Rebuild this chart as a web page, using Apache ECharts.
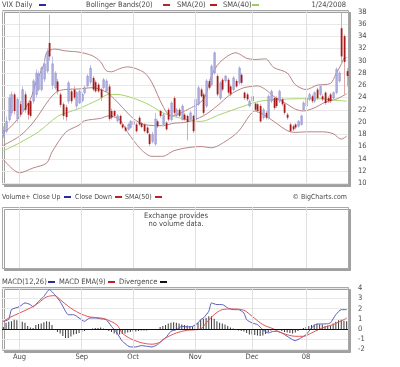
<!DOCTYPE html>
<html><head><meta charset="utf-8">
<script src="https://cdn.jsdelivr.net/npm/echarts@6/dist/echarts.min.js"></script>
<style>html,body{margin:0;padding:0;background:#fff}#c{width:400px;height:367px}</style>
</head><body><div id="c"></div>
<script>
// ---------- DATA ----------
const dates = ['7/24','7/25','7/26','7/27','7/30','7/31',
'8/1','8/2','8/3','8/6','8/7','8/8','8/9','8/10','8/13','8/14','8/15','8/16','8/17','8/20','8/21','8/22','8/23','8/24','8/27','8/28','8/29','8/30','8/31',
'9/4','9/5','9/6','9/7','9/10','9/11','9/12','9/13','9/14','9/17','9/18','9/19','9/20','9/21','9/24','9/25','9/26','9/27','9/28',
'10/1','10/2','10/3','10/4','10/5','10/8','10/9','10/10','10/11','10/12','10/15','10/16','10/17','10/18','10/19','10/22','10/23','10/24','10/25','10/26','10/29','10/30','10/31',
'11/1','11/2','11/5','11/6','11/7','11/8','11/9','11/12','11/13','11/14','11/15','11/16','11/19','11/20','11/21','11/23','11/26','11/27','11/28','11/29','11/30',
'12/3','12/4','12/5','12/6','12/7','12/10','12/11','12/12','12/13','12/14','12/17','12/18','12/19','12/20','12/21','12/24','12/26','12/27','12/28','12/31',
'1/2','1/3','1/4','1/7','1/8','1/9','1/10','1/11','1/14','1/15','1/16','1/17','1/18','1/22','1/23','1/24'];

const monthLabels = {'8/1':'Aug','9/4':'Sep','10/1':'Oct','11/1':'Nov','12/3':'Dec','1/2':'08'};

const vixOpen = [17.8,18.5,20.4,21.5,24.5,20.5,22.9,22.0,24.5,23.1,23.4,23.4,24.5,25.3,25.3,27.0,28.3,32.9,26.0,25.6,
26.6,24.5,22.9,22.4,23.4,25.0,25.3,22.6,23.1,23.5,24.8,25.9,26.5,27.2,26.5,26.1,25.3,25.6,25.0,25.8,
21.8,21.8,20.2,21.0,19.6,19.1,18.8,19.1,19.6,19.6,20.7,19.8,19.6,19.1,18.0,16.8,16.4,20.1,21.8,19.6,
19.9,22.0,20.4,23.9,21.0,22.0,20.4,21.2,21.0,20.4,21.0,20.4,22.9,25.3,24.5,22.6,26.7,26.1,28.0,27.5,
23.9,26.9,26.7,26.9,25.8,25.3,26.7,26.4,27.7,24.8,24.5,22.6,24.2,23.0,22.9,22.6,20.7,21.5,20.7,23.4,
23.9,23.9,23.4,23.7,22.9,21.2,19.6,19.3,19.6,19.3,19.6,22.0,22.6,23.7,24.2,23.4,25.3,24.5,24.2,24.8,
23.9,24.5,23.9,24.8,26.7,35.3,34.0,28.3];
const vixClose = [18.6,20.1,23.9,24.5,21.8,23.7,21.2,25.3,22.0,21.2,21.0,26.7,28.0,27.8,28.8,29.5,31.5,30.7,29.5,28.0,
25.0,22.8,21.0,20.8,26.4,23.4,24.0,24.8,25.0,24.5,25.6,27.5,28.8,25.3,25.0,25.0,24.0,26.9,26.7,20.5,
20.7,21.0,21.0,19.7,19.1,18.6,19.6,20.1,20.1,18.5,19.6,19.2,18.5,18.2,16.4,18.0,20.5,19.3,21.0,21.2,
18.8,20.4,23.1,21.5,22.0,21.0,22.6,20.4,20.0,21.5,18.5,23.7,25.6,24.2,21.5,26.7,25.6,29.1,31.3,24.5,
26.4,25.3,27.5,24.8,24.5,27.2,25.8,28.8,26.4,23.9,23.7,23.4,23.4,22.0,21.8,20.1,22.0,20.7,24.2,25.0,
22.3,22.6,25.0,22.9,21.5,20.7,18.5,18.8,19.1,20.1,21.0,23.1,23.9,24.5,23.4,24.8,23.9,25.8,23.7,23.1,
23.4,23.4,24.8,28.6,28.0,30.7,29.8,27.5];
const vixLow = [17.4,18.2,20.0,21.0,21.2,19.9,20.8,21.6,21.5,20.4,20.7,23.0,24.0,25.0,25.0,26.5,28.0,30.0,25.3,25.3,
24.5,22.4,20.4,20.2,23.0,23.0,23.7,22.2,22.9,23.2,24.5,25.6,26.1,25.0,24.8,24.8,23.4,25.3,24.8,20.2,
20.4,20.7,19.9,19.5,18.9,18.4,18.6,18.9,19.4,18.3,19.4,19.0,18.3,18.0,16.1,16.5,16.1,19.0,20.7,19.3,
18.6,20.1,20.1,21.0,20.7,20.8,20.2,20.2,17.0,20.2,18.2,20.2,22.6,24.0,21.2,22.3,25.3,25.8,27.7,24.2,
23.6,25.0,26.4,24.5,24.2,25.0,25.6,26.1,26.1,23.6,23.4,22.4,23.1,21.8,21.5,19.9,20.4,20.4,20.4,23.1,
22.0,22.3,23.1,22.6,21.2,20.4,18.3,18.5,18.8,19.1,19.4,21.8,22.3,23.4,23.1,23.1,23.6,24.2,23.4,22.8,
23.1,23.1,23.6,24.5,26.4,29.5,24.5,25.8];
const vixHigh = [19.3,20.9,24.5,25.0,24.8,24.0,23.4,25.8,25.0,23.4,23.7,27.0,28.6,28.3,29.1,30.0,32.0,37.5,30.7,28.3,
27.0,24.8,23.2,22.8,26.7,25.5,25.8,25.0,25.3,24.8,26.0,27.8,29.3,27.5,26.8,26.4,25.6,27.2,27.0,26.2,
22.2,22.0,21.3,21.2,19.9,19.4,19.8,20.3,20.4,19.9,21.0,20.0,19.8,19.3,18.2,18.4,21.5,20.4,22.0,21.5,
20.1,22.3,23.4,24.2,22.3,22.3,22.9,21.5,21.2,21.8,21.2,24.0,25.9,25.6,24.8,27.0,27.0,29.4,31.5,27.8,
26.7,27.2,27.7,27.2,26.1,27.5,27.0,29.1,28.0,25.0,24.8,23.7,24.5,23.2,23.1,22.9,22.3,21.8,24.5,25.3,
24.2,24.2,25.3,24.0,23.1,21.5,19.9,19.6,19.8,20.3,21.2,23.4,24.2,24.8,24.5,25.0,25.6,26.1,24.5,25.0,
24.2,24.8,25.0,28.9,28.3,37.8,34.3,28.8];

const upperBand = [['7/24',18.4],['7/26',18.9],['8/1',20.9],['8/7',23.7],['8/9',26.4],['8/14',29.4],['8/15',31.3],['8/20',31.9],
['8/24',31.6],['8/31',31.4],['9/10',30.8],['9/13',29.8],['9/17',28.4],['9/19',28.2],['9/24',28.7],['9/27',29.0],['10/5',28.1],
['10/10',26.4],['10/16',22.6],['10/19',21.0],['10/29',22.0],['11/6',23.7],['11/9',27.5],['11/14',29.7],['11/23',31.3],['11/29',30.4],
['12/4',30.2],['12/10',30.3],['12/13',28.9],['12/20',28.0],['12/26',26.1],['1/2',25.3],['1/8',26.0],['1/15',26.3],['1/17',27.8],
['1/22',29.4],['1/23',30.4],['1/24',30.5]];
const sma20 = [['7/24',16.2],['8/1',17.7],['8/8',19.9],['8/16',23.7],['8/21',25.0],['8/24',25.3],['8/31',25.4],['9/10',25.6],
['9/17',24.9],['9/20',23.8],['9/25',22.4],['10/1',20.6],['10/5',19.6],['10/16',19.4],['10/22',19.8],['10/29',20.0],['11/6',21.0],
['11/13',22.6],['11/20',24.5],['11/28',25.6],['12/3',25.8],['12/5',25.9],['12/10',25.3],['12/13',24.2],['12/20',22.9],['12/26',22.1],
['12/31',21.8],['1/7',22.3],['1/11',23.2],['1/17',23.7],['1/24',24.6]];
const lowerBand = [['7/24',13.9],['8/1',11.7],['8/8',12.5],['8/15',13.3],['8/17',15.1],['8/24',18.3],['8/31',19.5],['9/5',20.2],
['9/13',20.6],['9/18',21.0],['9/24',20.4],['9/27',18.3],['10/4',15.5],['10/10',14.4],['10/16',14.4],['10/22',15.3],['10/29',15.8],
['11/5',16.0],['11/9',15.8],['11/16',16.8],['11/26',18.5],['11/30',21.0],['12/4',21.8],['12/10',21.0],['12/14',19.8],['12/20',18.6],
['12/26',18.3],['1/2',18.4],['1/10',18.4],['1/16',18.1],['1/22',17.2],['1/24',17.7]];
const sma40 = [['7/24',15.3],['8/1',16.6],['8/10',18.4],['8/21',20.9],['8/27',21.6],['8/31',22.2],['9/12',23.6],['9/18',24.5],
['9/21',24.5],['10/1',23.9],['10/9',22.8],['10/16',21.5],['10/23',20.8],['10/31',20.2],['11/5',20.1],['11/14',21.2],['11/28',22.6],
['12/6',23.4],['12/18',23.7],['12/28',23.8],['1/8',23.8],['1/16',23.6],['1/24',23.4]];

const macdLine = [['7/24',0.75],['7/26',0.95],['7/27',1.9],['8/1',2.2],['8/3',2.56],['8/7',2.4],['8/8',2.16],['8/10',2.7],['8/14',3.2],
['8/16',3.87],['8/20',3.38],['8/22',2.7],['8/24',1.74],['8/27',1.4],['8/29',1.4],['8/31',1.08],['9/5',0.75],['9/7',1.08],['9/11',1.08],
['9/13',1.0],['9/17',0.92],['9/19',0.26],['9/21',-0.39],['9/25',-1.2],['9/27',-1.64],['9/28',-1.77],['10/2',-1.77],['10/4',-1.64],
['10/8',-1.7],['10/10',-1.77],['10/12',-1.54],['10/16',-1.05],['10/17',-0.89],['10/19',-0.23],['10/23',-0.07],['10/25',0.26],
['10/29',0.2],['10/31',0.26],['11/2',0.59],['11/5',0.92],['11/6',1.08],['11/8',1.74],['11/9',2.56],['11/13',2.4],['11/15',2.4],
['11/19',2.07],['11/21',1.9],['11/26',1.9],['11/28',1.57],['11/29',0.92],['12/3',0.59],['12/5',0.43],['12/7',-0.07],['12/11',-0.39],
['12/13',-0.23],['12/14',-0.23],['12/18',-0.39],['12/20',-0.72],['12/24',-1.05],['12/26',-1.15],['12/28',-0.89],['1/2',-0.56],
['1/4',0.1],['1/8',0.49],['1/10',0.49],['1/14',0.52],['1/15',0.59],['1/17',1.41],['1/22',1.9],['1/24',1.9]];
const macdSignal = [['7/24',0.75],['7/26',1.08],['8/1',1.57],['8/7',2.07],['8/10',2.56],['8/15',3.15],['8/20',3.28],['8/22',2.89],
['8/27',2.23],['8/31',1.57],['9/7',1.18],['9/13',1.08],['9/17',0.95],['9/21',0.4],['9/25',-0.4],['9/28',-0.95],['10/4',-1.35],
['10/10',-1.5],['10/15',-1.3],['10/17',-0.89],['10/23',-0.39],['10/29',-0.13],['11/5',0],['11/7',0.59],['11/12',1.41],['11/15',1.9],
['11/21',1.97],['11/28',1.84],['12/3',1.25],['12/7',0.43],['12/13',0],['12/18',-0.39],['12/26',-0.72],['12/31',-0.72],['1/4',-0.39],
['1/10',0.1],['1/16',0.43],['1/23',0.92],['1/24',1.08]];
const divergence = [0.2,0.6,0.7,0.75,0.9,0.85,0.8,0.7,0.6,0.3,
0.15,0.1,0.4,0.5,0.55,0.65,0.75,0.7,0.4,0.0,
-0.3,-0.45,-0.7,-0.9,-0.9,-0.75,-0.55,-0.5,-0.4,-0.3,
-0.2,-0.1,0.0,0.05,0.1,0.1,0.15,0.05,0.0,-0.2,
-0.3,-0.45,-0.55,-0.55,-0.5,-0.45,-0.35,-0.3,-0.25,-0.25,
-0.2,-0.15,-0.15,-0.15,-0.1,-0.1,-0.05,0.0,0.2,0.3,
0.4,0.55,0.6,0.65,0.6,0.55,0.45,0.4,0.35,0.3,
0.25,0.4,0.6,
0.9,1.0,1.1,1.25,1.25,1.0,0.75,0.6,0.55,0.45,
0.3,0.15,0.05,-0.05,-0.15,-0.2,-0.25,-0.4,-0.55,-0.55,
-0.6,-0.65,-0.7,-0.65,-0.5,-0.3,-0.15,-0.05,0.0,-0.1,
-0.2,-0.3,-0.35,-0.4,-0.45,-0.35,-0.2,-0.05,0.1,0.2,
0.3,0.4,0.45,0.5,0.45,0.45,0.3,0.35,0.3,0.55,
0.7,0.85,0.9,0.8,0.75];

// ---------- CHART ----------
const FONT = "'Liberation Sans Narrow','DejaVu Sans Condensed','Liberation Sans',sans-serif";
const TXT = '#4a4a4a';
const chart = echarts.init(document.getElementById('c'), null, {renderer:'canvas'});
const monthStarts = Object.keys(monthLabels);
const vLines = {
  silent:true, symbol:['none','none'], label:{show:false}, animation:false,
  lineStyle:{color:'#e0e0e0', type:'solid', width:1},
  data: monthStarts.map(d => ({xAxis:d}))
};
function frame(x,y,w,h){
  return {type:'rect', z:-10, shape:{x:x+0.5,y:y+0.5,width:w,height:h},
    style:{fill:'#fff', stroke:'#a8a8a8', lineWidth:1, shadowColor:'#a0a0a0', shadowOffsetX:2, shadowOffsetY:2, shadowBlur:0}};
}
function txt(s,x,y,align,size){
  return {type:'text', z:50, style:{text:s, x:x, y:y, fill:TXT, font:(size||7.5)+'px '+FONT,
    align:align||'left', textAlign:align||'left', verticalAlign:'middle', textVerticalAlign:'middle'}};
}
function mark(x,y,color){
  return {type:'rect', z:50, shape:{x:x, y:y-1, width:7, height:2}, style:{fill:color}};
}
const xCat = (gi, showLabels) => ({
  type:'category', gridIndex:gi, data:dates, boundaryGap:true,
  axisLine:{show:false}, axisTick:{show:false}, splitLine:{show:false},
  axisLabel: showLabels ? {
    show:true, interval:(idx,val)=>monthLabels[val]!==undefined,
    formatter:(val)=>monthLabels[val]||'', margin:4, color:TXT, fontSize:7.5, fontFamily:FONT
  } : {show:false}
});
const option = {
  animation:false,
  backgroundColor:'#fff',
  grid:[
    {left:2, top:11.7, width:346, height:171.6},
    {left:2, top:207, width:346, height:61},
    {left:2, top:288.3, width:346, height:61}
  ],
  xAxis:[xCat(0,false), xCat(1,false), xCat(2,true)],
  yAxis:[
    {type:'value', gridIndex:0, position:'right', min:10, max:38, interval:2,
     axisLine:{show:false}, axisTick:{show:false},
     axisLabel:{margin:10, color:TXT, fontSize:7.5, fontFamily:FONT},
     splitLine:{lineStyle:{color:'#e8e8e8'}}},
    {type:'value', gridIndex:1, show:false, min:0, max:1},
    {type:'value', gridIndex:2, position:'right', min:-2, max:4, interval:1,
     axisLine:{show:false}, axisTick:{show:false},
     axisLabel:{margin:10, color:TXT, fontSize:7.5, fontFamily:FONT},
     splitLine:{lineStyle:{color:'#e8e8e8'}}}
  ],
  graphic:[
    frame(2,10,346,174), frame(2,207,346,61), frame(2,287,346,63),
    txt('VIX Daily',2,5), mark(39,5,'#2b2b9a'),
    txt('Bollinger Bands(20)',86,5), mark(163,5,'#a03030'),
    txt('SMA(20)',177,5), mark(210,5,'#b02020'),
    txt('SMA(40)',223,5), mark(252,5,'#9acd5a'),
    txt('1/24/2008',346,5,'right'),
    txt('Volume+ Close Up',2,197,'left',7), mark(64,197,'#2b2b9a'),
    txt('Close Down',75,197,'left',7), mark(115,197,'#c02020'),
    txt('SMA(50)',125,197,'left',7), mark(155,197,'#c02020'),
    txt('\u00A9 BigCharts.com',347,197,'right',7),
    txt('Exchange provides',176,216,'center'),
    txt('no volume data.',176,224,'center'),
    txt('MACD(12,26)',2,282), mark(48,282,'#2b2b9a'),
    txt('MACD EMA(9)',59,282), mark(108,282,'#c02020'),
    txt('Divergence',119,282), mark(160,282,'#111')
  ],
  series:[
    {type:'line', xAxisIndex:0, yAxisIndex:0, data:[], z:1, markLine:vLines},
    {type:'line', xAxisIndex:1, yAxisIndex:1, data:[], z:1, markLine:vLines},
    {type:'line', xAxisIndex:2, yAxisIndex:2, data:[], z:1, markLine:vLines},
    {type:'line', name:'upper', xAxisIndex:0, yAxisIndex:0, data:upperBand, showSymbol:false, smooth:0.3,
     lineStyle:{color:'#b98484', width:1}, z:3},
    {type:'line', name:'sma20', xAxisIndex:0, yAxisIndex:0, data:sma20, showSymbol:false, smooth:0.3,
     lineStyle:{color:'#b98484', width:1}, z:3},
    {type:'line', name:'lower', xAxisIndex:0, yAxisIndex:0, data:lowerBand, showSymbol:false, smooth:0.3,
     lineStyle:{color:'#b98484', width:1}, z:3},
    {type:'line', name:'sma40', xAxisIndex:0, yAxisIndex:0, data:sma40, showSymbol:false, smooth:0.3,
     lineStyle:{color:'#a6d46e', width:1}, z:3},
    {type:'custom', name:'VIX', xAxisIndex:0, yAxisIndex:0, z:4,
     data: dates.map((d,i)=>[d, vixOpen[i], vixClose[i], vixLow[i], vixHigh[i]]),
     encode:{x:0, y:[1,2,3,4]},
     renderItem:function(params, api){
       const xi = api.value(0);
       const o = api.value(1), c = api.value(2), l = api.value(3), h = api.value(4);
       const po = api.coord([xi,o]), pc = api.coord([xi,c]), pl = api.coord([xi,l]), ph = api.coord([xi,h]);
       const x = Math.round(po[0]);
       const up = c >= o;
       const top = Math.min(po[1],pc[1]), bot = Math.max(po[1],pc[1]);
       return {type:'group', children:[
         {type:'line', shape:{x1:x+0.5, y1:ph[1], x2:x+0.5, y2:pl[1]},
          style:{stroke: up ? '#c0c0ea' : '#dcaaaa', lineWidth:1}},
         {type:'rect', shape:{x:x-0.3, y:top, width:1.8, height:Math.max(1.2, bot-top)},
          style:{fill: up ? '#adadde' : '#a31b1b', stroke: up ? '#8686cc' : null, lineWidth: up ? 0.4 : 0}}
       ]};
     }},
    {type:'bar', name:'Divergence', xAxisIndex:2, yAxisIndex:2, data:divergence, barWidth:1,
     itemStyle:{color:'#3a3a3a'}, z:3,
     markLine:{silent:true, symbol:['none','none'], label:{show:false}, animation:false,
       lineStyle:{color:'#111', type:'solid', width:1}, data:[{yAxis:0}]}},
    {type:'line', name:'MACD', xAxisIndex:2, yAxisIndex:2, data:macdLine, showSymbol:false, smooth:0.2,
     lineStyle:{color:'#5b5bb8', width:1}, z:4},
    {type:'line', name:'Signal', xAxisIndex:2, yAxisIndex:2, data:macdSignal, showSymbol:false, smooth:0.3,
     lineStyle:{color:'#e05555', width:1}, z:4}
  ]
};
chart.setOption(option);
</script>
</body></html>
